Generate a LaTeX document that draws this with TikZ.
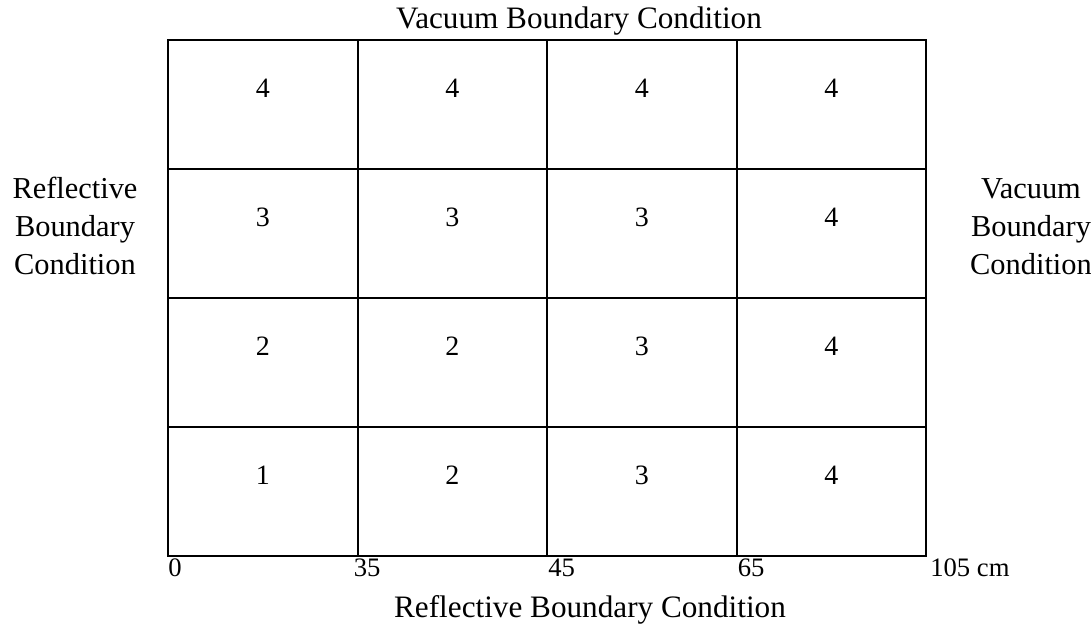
\documentclass[tikz,border=0pt]{standalone}
\usepackage{fontspec}
\setmainfont{Liberation Serif}
\begin{document}
\begin{tikzpicture}[x=0.75pt,y=-0.75pt,
  cellbox/.style={minimum width=189.5*0.75pt,minimum height=129*0.75pt,inner sep=0pt,outer sep=0pt},
  gridline/.style={line width=1.5pt},
  celltxt/.style={font=\fontsize{21}{24}\selectfont,anchor=base,inner sep=0pt},
  axistxt/.style={font=\fontsize{20}{24}\selectfont,anchor=base west,inner sep=0pt},
  titletxt/.style={font=\fontsize{23.4}{28.5}\selectfont,anchor=base,inner sep=0pt},
  sidetxt/.style={font=\fontsize{22.8}{28.5}\selectfont,anchor=north,inner sep=0pt,align=center}]
\useasboundingbox (0,0) rectangle (1091,628);
% cells: row index r from top (1..4), column c (1..4)
\foreach \r/\vals in {1/{4,4,4,4},2/{3,3,3,4},3/{2,2,3,4},4/{1,2,3,4}}{
  \foreach \v [count=\c] in \vals {
    \node[cellbox] (cell-\r-\c) at ({168+189.5*(\c-0.5)},{40+129*(\r-0.5)}) {};
    \node[celltxt] (num-\r-\c) at ([yshift=-57*0.75pt]cell-\r-\c.north) {\v};
  }
}
% grid lines
\draw[gridline] (cell-1-1.north west) rectangle (cell-4-4.south east);
\foreach \c in {1,2,3}{
  \draw[gridline] (cell-1-\c.north east) -- (cell-4-\c.south east);
  \draw[gridline] (cell-\c-1.south west) -- (cell-\c-4.south east);
}
% axis labels
\node[axistxt] (ax0) at ([yshift=-20*0.75pt]cell-4-1.south west) {0};
\node[axistxt] (ax35) at ([xshift=-4*0.75pt,yshift=-20*0.75pt]cell-4-2.south west) {35};
\node[axistxt] (ax45) at ([xshift=1*0.75pt,yshift=-20*0.75pt]cell-4-3.south west) {45};
\node[axistxt] (ax65) at ([xshift=1*0.75pt,yshift=-20*0.75pt]cell-4-4.south west) {65};
\node[axistxt] (ax105) at ([xshift=4*0.75pt,yshift=-20*0.75pt]cell-4-4.south east) {105 cm};
% boundary condition labels
\node[titletxt] (top) at (579,28) {Vacuum Boundary Condition};
\node[titletxt] (bottom) at (590,617) {Reflective Boundary Condition};
\node[sidetxt] (left) at (75,172) {\strut Reflective\\Boundary\\Condition};
\node[sidetxt] (right) at (1031,172) {\strut Vacuum\\Boundary\\Condition};
\end{tikzpicture}
\end{document}
